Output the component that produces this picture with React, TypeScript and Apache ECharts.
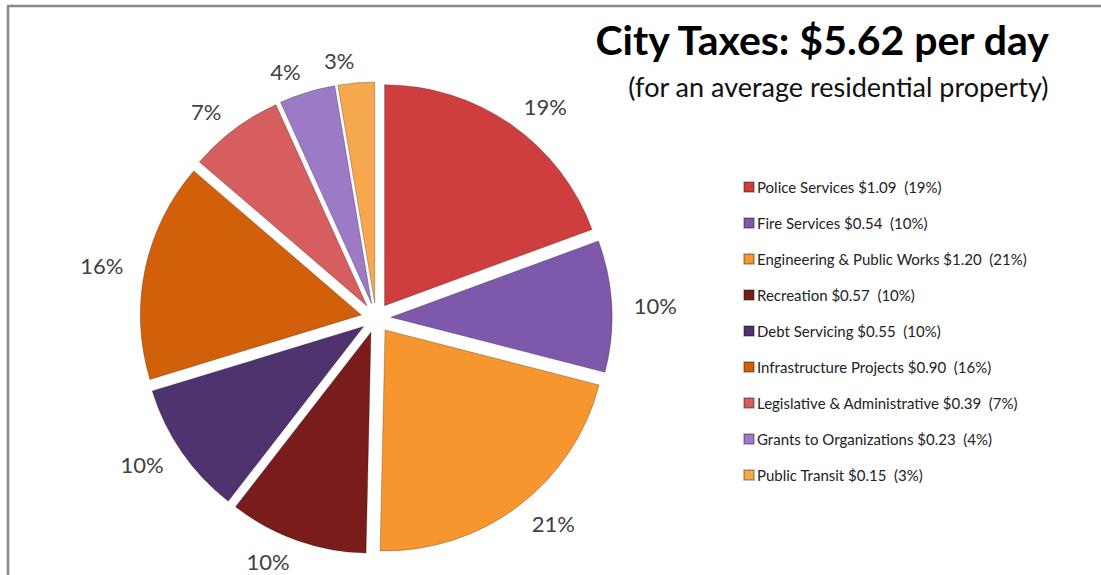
import React, { useEffect, useRef } from "react";
import * as echarts from "echarts";

const categories = [
  "Police Services",
  "Fire Services",
  "Engineering & Public Works",
  "Recreation",
  "Debt Servicing",
  "Infrastructure Projects",
  "Legislative & Administrative",
  "Grants to Organizations",
  "Public Transit",
];
const values = [1.09, 0.54, 1.2, 0.57, 0.55, 0.9, 0.39, 0.23, 0.15];
const percentLabels = [19, 10, 21, 10, 10, 16, 7, 4, 3];
const colors = [
  "#CF3E3F",
  "#7E58AA",
  "#F7952E",
  "#7A1C1C",
  "#4E336E",
  "#D2600A",
  "#D65E5E",
  "#9C7AC6",
  "#F6A84E",
];
const titleText = "City Taxes: $5.62 per day";
const subtitleText = "(for an average residential property)";

const FONT = "Lato, 'Open Sans', sans-serif";

export default function App() {
  const ref = useRef<HTMLDivElement>(null);
  useEffect(() => {
    if (!ref.current) return;
    const chart = echarts.init(ref.current, undefined, { renderer: "svg" });
    const legendMap: Record<string, string> = {};
    categories.forEach((c, i) => {
      legendMap[c] = `${c} $${values[i].toFixed(2)}  (${percentLabels[i]}%)`;
    });
    chart.setOption({
      animation: false,
      backgroundColor: "#ffffff",
      color: colors,
      title: [
        {
          text: titleText,
          right: 44,
          top: 14,
          textStyle: { fontFamily: FONT, fontSize: 41, fontWeight: "bold", color: "#000" },
        },
        {
          text: subtitleText,
          right: 47,
          top: 68,
          textStyle: { fontFamily: FONT, fontSize: 27, fontWeight: "normal", color: "#111" },
        },
      ],
      legend: {
        orient: "vertical",
        left: 738,
        top: 174,
        icon: "rect",
        itemWidth: 10,
        itemHeight: 10,
        itemGap: 20,
        selectedMode: false,
        data: categories,
        formatter: (name: string) => legendMap[name],
        textStyle: { fontFamily: FONT, fontSize: 15, lineHeight: 16, color: "#222", padding: [0, 0, 0, -2] },
      },
      graphic: [
        { type: "line", shape: { x1: 7, y1: 6, x2: 1101, y2: 6 }, style: { stroke: "#888", lineWidth: 2.5 } },
        { type: "line", shape: { x1: 8, y1: 6, x2: 8, y2: 575 }, style: { stroke: "#888", lineWidth: 2.5 } },
      ],
      series: [
        {
          type: "pie",
          center: [376, 318],
          radius: [0, 221],
          startAngle: 90,
          clockwise: true,
          selectedMode: "multiple",
          selectedOffset: 15,
          percentPrecision: 0,
          avoidLabelOverlap: false,
          emphasis: { disabled: true },
          itemStyle: { borderColor: "rgba(0,0,0,0.25)", borderWidth: 1 },
          select: { itemStyle: { borderColor: "rgba(0,0,0,0.25)", borderWidth: 1 } },
          label: {
            show: true,
            position: "outside",
            formatter: "{d}%",
            fontFamily: FONT,
            fontSize: 22,
            color: "#404040",
            distanceToLabelLine: 0,
          },
          labelLine: { show: false, length: 22, length2: 0 },
          data: categories.map((c, i) => ({ name: c, value: values[i], selected: true })),
        },
      ],
    });
    return () => chart.dispose();
  }, []);
  return (
    <div
      ref={ref}
      style={{ position: "fixed", left: 0, top: 0, width: 1101, height: 575, background: "#fff" }}
    />
  );
}
